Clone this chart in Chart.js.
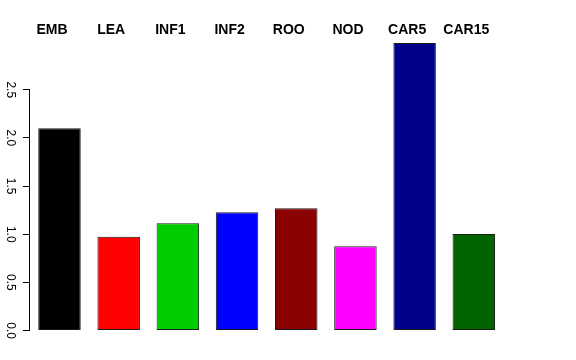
<!DOCTYPE html>
<html>
<head>
<meta charset="utf-8">
<script src="https://cdn.jsdelivr.net/npm/chart.js@4.4.1/dist/chart.umd.min.js"></script>
<style>
  html, body { margin: 0; padding: 0; background: #ffffff; }
  #wrap { width: 576px; height: 360px; position: relative; }
</style>
</head>
<body>
<div id="wrap"><canvas id="c" width="576" height="360"></canvas></div>
<script>
const categories = ["EMB", "LEA", "INF1", "INF2", "ROO", "NOD", "CAR5", "CAR15"];
const values = [2.10, 0.974, 1.113, 1.227, 1.269, 0.874, 2.985, 1.002];
const barColors = ["#000000", "#FF0000", "#00CD00", "#0000FF", "#8B0000", "#FF00FF", "#00008B", "#006400"];
const yTicks = [0, 0.5, 1.0, 1.5, 2.0, 2.5];
const yTickLabels = ["0.0", "0.5", "1.0", "1.5", "2.0", "2.5"];

const axisLinePlugin = {
  id: 'axisLine',
  afterDraw(chart) {
    const y = chart.scales.y;
    const ctx = chart.ctx;
    const x = chart.chartArea.left;
    ctx.save();
    ctx.strokeStyle = '#000000';
    ctx.lineWidth = 1;
    ctx.beginPath();
    ctx.moveTo(Math.round(x) - 0.5, y.getPixelForValue(yTicks[0]) + 0.5);
    ctx.lineTo(Math.round(x) - 0.5, y.getPixelForValue(yTicks[yTicks.length - 1]) - 0.5);
    ctx.stroke();
    ctx.restore();
  }
};

new Chart(document.getElementById('c'), {
  type: 'bar',
  data: {
    labels: categories,
    datasets: [{
      data: values,
      backgroundColor: barColors,
      borderColor: '#1a1a1a',
      borderWidth: 1,
      borderSkipped: false,
      barPercentage: 0.718,
      categoryPercentage: 1.0
    }]
  },
  options: {
    responsive: false,
    animation: false,
    devicePixelRatio: 1,
    layout: { padding: { left: 0, right: 72.6, top: 0, bottom: 17.9 } },
    plugins: { legend: { display: false }, tooltip: { enabled: false } },
    scales: {
      x: {
        position: 'top',
        grid: { display: false, drawTicks: false },
        border: { display: false },
        ticks: {
          color: '#000000',
          padding: 3.5,
          labelOffset: -7.5,
          maxRotation: 0,
          minRotation: 0,
          font: { family: 'Liberation Sans', size: 14, weight: 'bold' }
        },
        afterFit(scale) { scale.height = 41.6; }
      },
      y: {
        min: -0.12,
        max: 3.0,
        grid: { display: true, drawOnChartArea: false, drawTicks: true, tickLength: 7, color: '#000000' },
        border: { display: false },
        afterBuildTicks(scale) { scale.ticks = yTicks.map(v => ({ value: v })); },
        ticks: {
          color: '#000000',
          padding: 4,
          crossAlign: 'center',
          minRotation: -90,
          maxRotation: -90,
          font: { family: 'Liberation Sans', size: 12 },
          callback(value) {
            const i = yTicks.indexOf(value);
            return i >= 0 ? yTickLabels[i] : '';
          }
        },
        afterFit(scale) { scale.width = 29.9; }
      }
    }
  },
  plugins: [axisLinePlugin]
});
</script>
</body>
</html>
